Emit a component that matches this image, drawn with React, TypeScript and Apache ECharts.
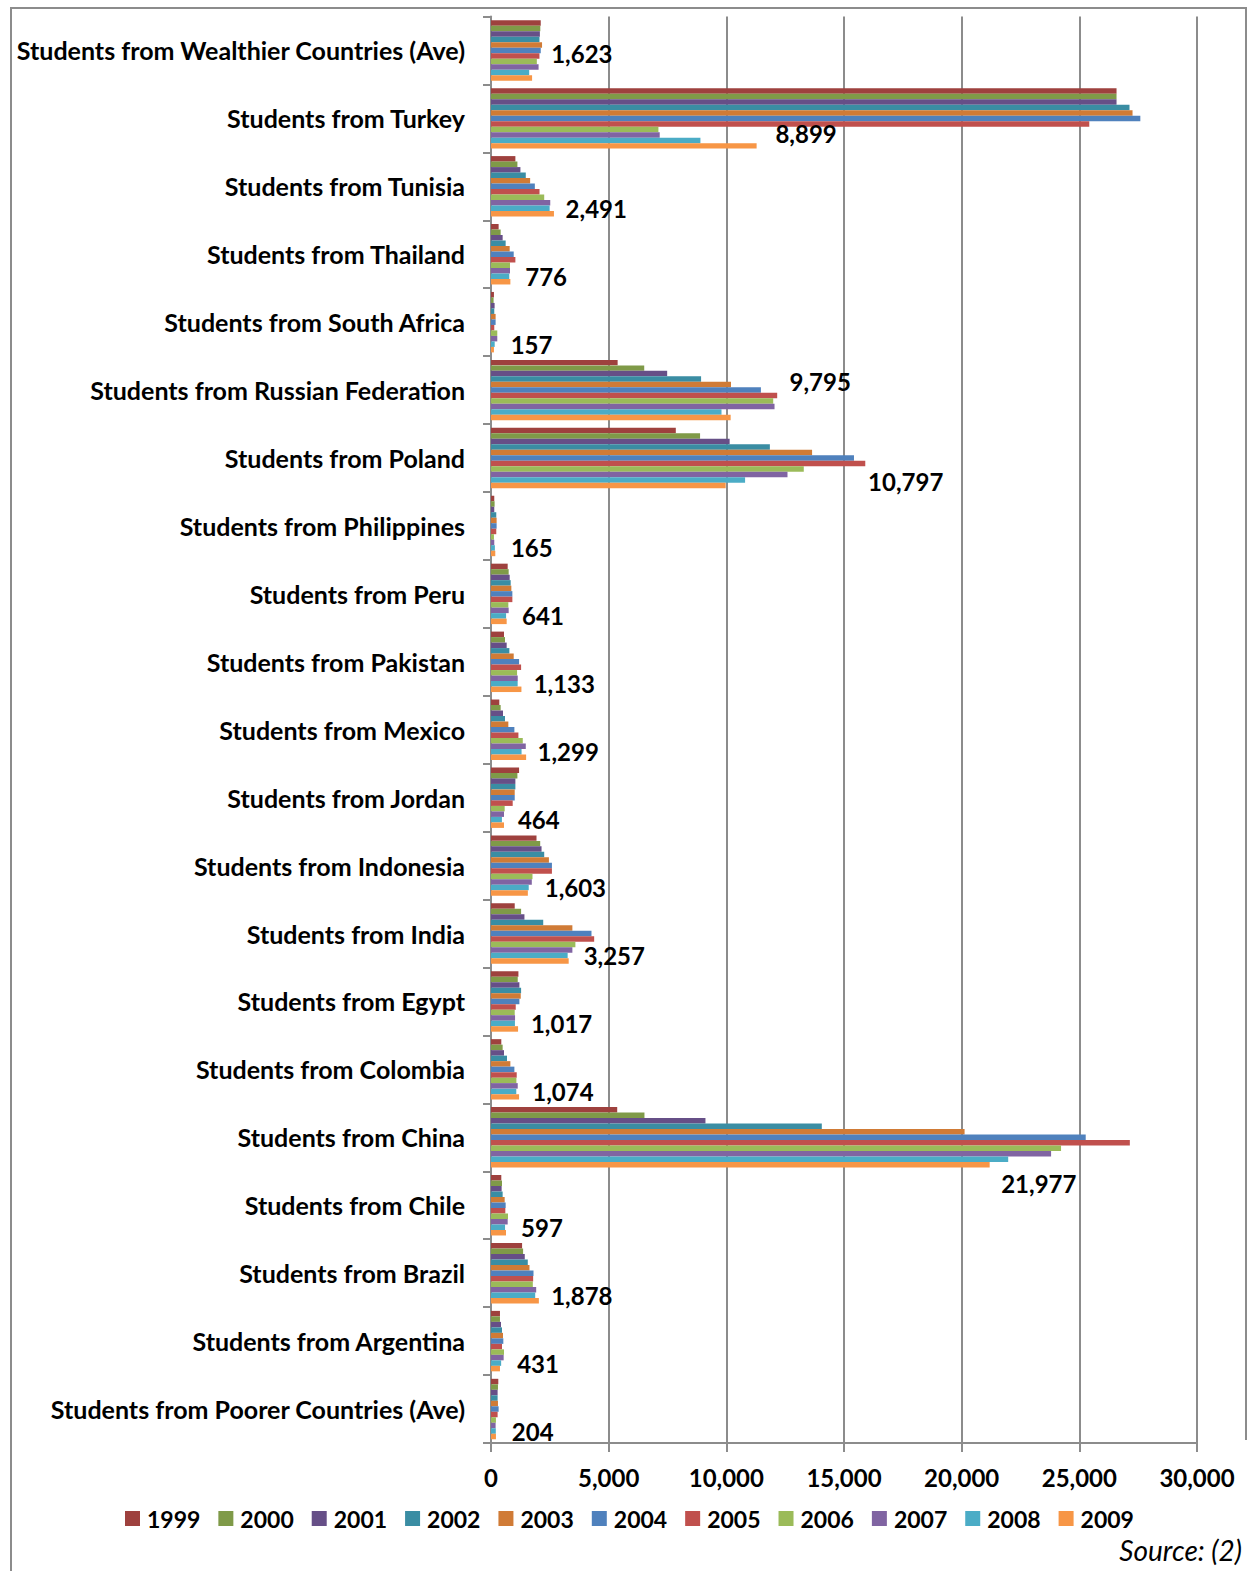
import React, { useEffect, useRef } from "react";
import * as echarts from "echarts";

const categories = [
  "Students from Wealthier Countries (Ave)",
  "Students from Turkey",
  "Students from Tunisia",
  "Students from Thailand",
  "Students from South Africa",
  "Students from Russian Federation",
  "Students from Poland",
  "Students from Philippines",
  "Students from Peru",
  "Students from Pakistan",
  "Students from Mexico",
  "Students from Jordan",
  "Students from Indonesia",
  "Students from India",
  "Students from Egypt",
  "Students from Colombia",
  "Students from China",
  "Students from Chile",
  "Students from Brazil",
  "Students from Argentina",
  "Students from Poorer Countries (Ave)",
];

const years = ["1999", "2000", "2001", "2002", "2003", "2004", "2005", "2006", "2007", "2008", "2009"];

const y1999 = [2114, 26581, 1036, 324, 125, 5381, 7853, 139, 709, 552, 353, 1193, 1934, 1008, 1165, 438, 5363, 438, 1321, 381, 310];
const y2000 = [2095, 26581, 1122, 410, 110, 6511, 8884, 153, 751, 595, 410, 1122, 2091, 1279, 1136, 495, 6521, 467, 1364, 381, 296];
const y2001 = [2077, 26581, 1250, 495, 153, 7486, 10141, 139, 794, 666, 509, 1036, 2148, 1421, 1207, 552, 9113, 452, 1435, 424, 281];
const y2002 = [2059, 27132, 1478, 623, 139, 8927, 11850, 224, 837, 780, 595, 1036, 2261, 2219, 1279, 680, 14057, 495, 1563, 467, 281];
const y2003 = [2169, 27261, 1663, 794, 196, 10198, 13644, 239, 865, 965, 737, 1008, 2461, 3458, 1264, 823, 20124, 581, 1635, 509, 296];
const y2004 = [2114, 27592, 1863, 965, 196, 11469, 15424, 239, 908, 1193, 994, 1008, 2589, 4270, 1207, 994, 25271, 623, 1806, 524, 324];
const y2005 = [2059, 25423, 2062, 1036, 139, 12161, 15904, 224, 908, 1279, 1165, 922, 2589, 4384, 1051, 1093, 27146, 609, 1791, 467, 281];
const y2006 = [1948, 7114, 2261, 808, 267, 11992, 13291, 125, 737, 1108, 1350, 581, 1763, 3586, 1008, 1079, 24223, 723, 1777, 552, 210];
const y2007 = [2022, 7169, 2518, 808, 267, 12048, 12599, 139, 751, 1136, 1478, 552, 1734, 3458, 1022, 1136, 23800, 709, 1920, 538, 196];
const y2008 = [1623, 8899, 2491, 776, 157, 9795, 10797, 165, 641, 1133, 1299, 464, 1603, 3257, 1017, 1074, 21977, 597, 1878, 431, 204];
const y2009 = [1746, 11287, 2675, 823, 125, 10184, 9972, 182, 666, 1293, 1492, 552, 1566, 3301, 1150, 1193, 21190, 638, 2034, 381, 210];

const seriesValues = [y1999, y2000, y2001, y2002, y2003, y2004, y2005, y2006, y2007, y2008, y2009];

const xTicks = [0, 5000, 10000, 15000, 20000, 25000, 30000];

const colors = ["#9E413E", "#7F9A48", "#664F87", "#3A8DA3", "#D07B36", "#4F81BD", "#C0504D", "#9BBB59", "#8064A2", "#4BACC6", "#F79646"];

// manual label nudges (dx, dy) for the labelled 2008 series
const labelNudges: Record<number, [number, number]> = {
  0: [6, -19],
  1: [59, -7],
  5: [52, -31],
  6: [107, 1],
  16: [-23, 24],
};

const FONT = "Lato";

export default function App() {
  const ref = useRef<HTMLDivElement>(null);
  useEffect(() => {
    if (!ref.current) return;
    const chart = echarts.init(ref.current, null, { renderer: "svg" });
    const fmt = (v: number) => v.toLocaleString("en-US");
    const series = years.map((yr, si) => ({
      name: yr,
      type: "bar",
      barGap: "0%",
      barCategoryGap: "11%",
      itemStyle: { color: colors[si] },
      data:
        yr === "2008"
          ? seriesValues[si].map((v, i) => ({
              value: v,
              label: labelNudges[i] ? { offset: labelNudges[i] } : undefined,
            }))
          : seriesValues[si],
      label:
        yr === "2008"
          ? {
              show: true,
              position: "right",
              distance: 16,
              fontFamily: FONT,
              fontWeight: "bold",
              fontSize: 24,
              color: "#000",
              formatter: (p: any) => fmt(p.value),
            }
          : { show: false },
    }));
    chart.setOption({
      animation: false,
      backgroundColor: "#fff",
      textStyle: { fontFamily: FONT },
      grid: { left: 491, right: 51, top: 16.5, bottom: 128, containLabel: false },
      legend: {
        data: years,
        left: 125,
        top: 1507,
        padding: 0,
        itemWidth: 15,
        itemHeight: 15,
        itemGap: 18,
        icon: "rect",
        textStyle: { fontFamily: FONT, fontWeight: "bold", fontSize: 23, color: "#000", padding: [0, 0, 0, 2] },
      },
      xAxis: {
        type: "value",
        min: xTicks[0],
        max: xTicks[xTicks.length - 1],
        interval: 5000,
        axisLine: { show: true, lineStyle: { color: "#8c8c8c", width: 2 } },
        axisTick: { show: true, length: 9, lineStyle: { color: "#8c8c8c", width: 2 } },
        splitLine: { show: true, lineStyle: { color: "#8c8c8c", width: 2 } },
        axisLabel: {
          margin: 22,
          fontFamily: FONT,
          fontWeight: "bold",
          fontSize: 24,
          color: "#000",
          formatter: (v: number) => fmt(v),
        },
      },
      yAxis: {
        type: "category",
        data: categories,
        inverse: true,
        axisLine: { show: true, lineStyle: { color: "#8c8c8c", width: 2 } },
        axisTick: { show: true, length: 8, lineStyle: { color: "#8c8c8c", width: 2 } },
        axisLabel: {
          margin: 26,
          fontFamily: FONT,
          fontWeight: "bold",
          fontSize: 25,
          color: "#000",
        },
      },
      graphic: [
        {
          type: "polyline",
          shape: { points: [[11, 1600], [11, 8], [1246, 8], [1246, 1440]] },
          style: { stroke: "#8c8c8c", lineWidth: 2, fill: "none" },
        },
        {
          type: "text",
          right: 6,
          top: 1536,
          style: { text: "Source: (2)", fontFamily: FONT, fontStyle: "italic", fontSize: 28, fill: "#000" },
        },
      ],
      series,
    });
    return () => chart.dispose();
  }, []);
  return <div ref={ref} style={{ position: "absolute", left: 0, top: 0, width: 1248, height: 1571 }} />;
}
